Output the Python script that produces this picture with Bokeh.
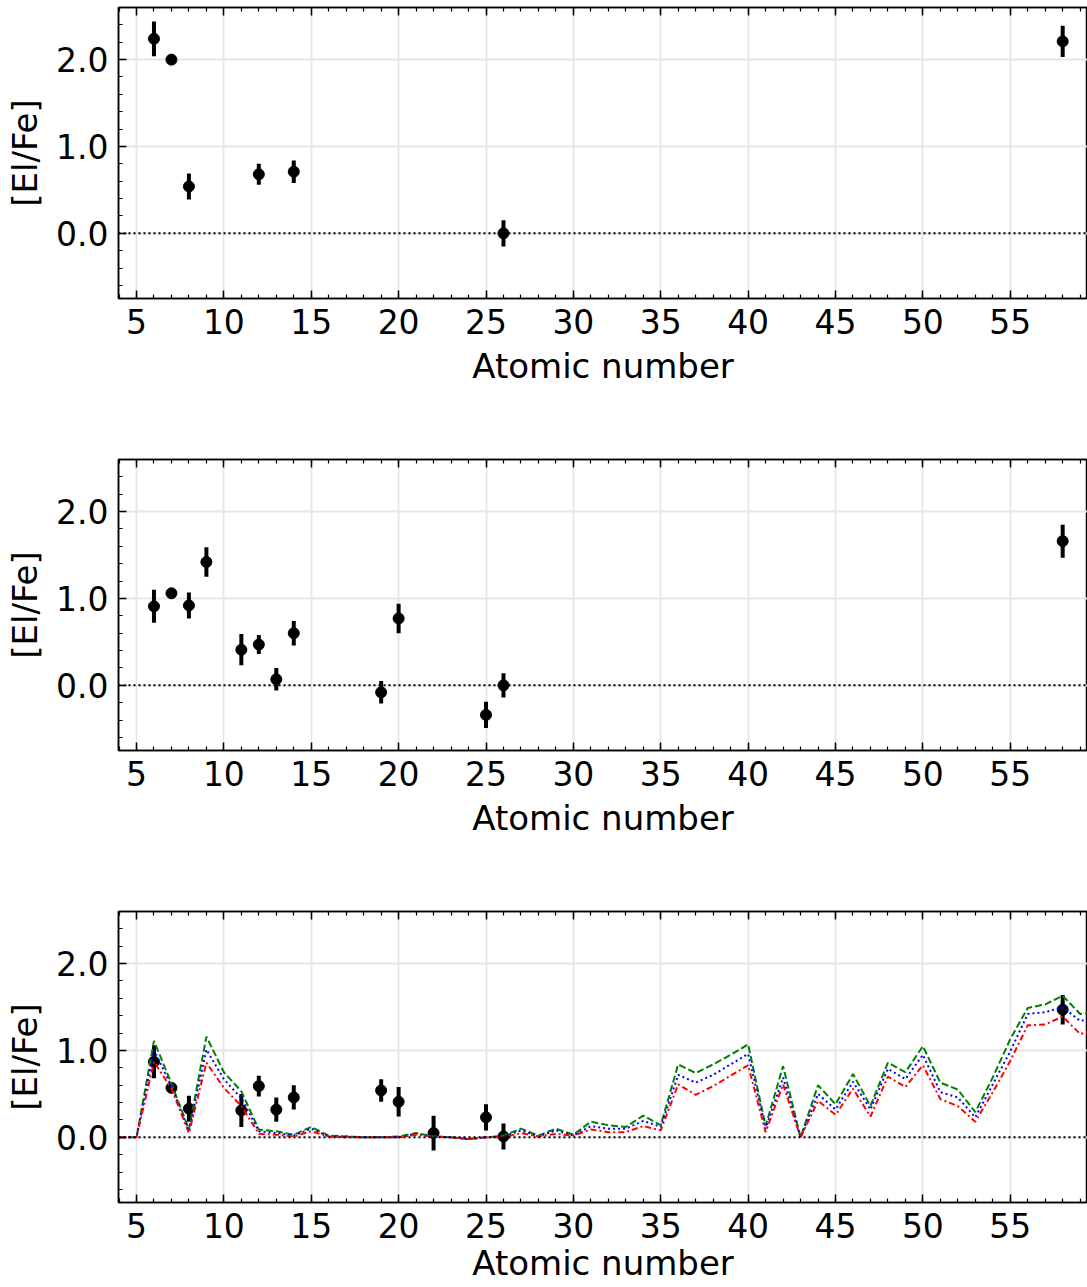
import numpy as np
from bokeh.plotting import figure
from bokeh.layouts import column
from bokeh.models import (Range1d, SingleIntervalTicker, PrintfTickFormatter,
                          LinearAxis, Span, CustomLabelingPolicy)
from bokeh.embed import file_html
from bokeh.resources import INLINE

FONT = "DejaVu Sans"

# ---- Panel 1 observations ----
z1 = [6, 7, 8, 12, 14, 26, 58]
y1 = [2.24, 2.00, 0.54, 0.68, 0.71, 0.00, 2.21]
e1 = [0.20, 0.02, 0.15, 0.12, 0.13, 0.15, 0.18]

# ---- Panel 2 observations ----
z2 = [6, 7, 8, 9, 11, 12, 13, 14, 19, 20, 25, 26, 58]
y2 = [0.91, 1.06, 0.92, 1.42, 0.41, 0.47, 0.07, 0.60, -0.08, 0.77, -0.34, 0.00, 1.66]
e2 = [0.19, 0.02, 0.15, 0.17, 0.18, 0.11, 0.13, 0.14, 0.13, 0.17, 0.15, 0.14, 0.19]

# ---- Panel 3 observations ----
z3 = [6, 7, 8, 11, 12, 13, 14, 19, 20, 22, 25, 26, 58]
y3 = [0.87, 0.57, 0.33, 0.31, 0.59, 0.32, 0.46, 0.54, 0.41, 0.05, 0.23, 0.01, 1.47]
e3 = [0.19, 0.03, 0.15, 0.19, 0.12, 0.14, 0.14, 0.13, 0.17, 0.20, 0.15, 0.15, 0.17]

# ---- Panel 3 model curves ----
zm = list(range(4, 61))
m_green = [0.0, 0.0, 1.11, 0.62, 0.09, 1.16, 0.75, 0.53, 0.09, 0.07, 0.03, 0.12, 0.02,
           0.01, 0.0, 0.0, 0.01, 0.05, 0.01, 0.0, -0.02, 0.0, 0.02, 0.10, 0.02, 0.10,
           0.03, 0.18, 0.14, 0.12, 0.25, 0.14, 0.84, 0.74, 0.84, 0.95, 1.07, 0.13,
           0.82, 0.0, 0.60, 0.38, 0.73, 0.36, 0.86, 0.75, 1.05, 0.63, 0.55, 0.29,
           0.69, 1.13, 1.49, 1.53, 1.63, 1.42, 1.45]
m_blue = [0.0, 0.0, 1.00, 0.59, 0.07, 1.01, 0.67, 0.45, 0.07, 0.05, 0.02, 0.10, 0.01,
          0.01, 0.0, 0.0, 0.0, 0.04, 0.01, 0.0, -0.02, 0.0, 0.01, 0.08, 0.01, 0.08,
          0.02, 0.13, 0.10, 0.10, 0.19, 0.12, 0.72, 0.63, 0.72, 0.84, 0.96, 0.10,
          0.69, 0.0, 0.50, 0.32, 0.64, 0.32, 0.79, 0.67, 0.95, 0.52, 0.46, 0.23,
          0.61, 0.99, 1.42, 1.44, 1.50, 1.34, 1.38]
m_red = [0.0, 0.0, 0.87, 0.56, 0.05, 0.86, 0.57, 0.36, 0.04, 0.03, 0.01, 0.07, 0.01,
         0.0, 0.0, 0.0, 0.0, 0.03, 0.01, 0.0, -0.02, 0.0, 0.0, 0.05, 0.01, 0.04,
         0.02, 0.09, 0.06, 0.06, 0.13, 0.08, 0.61, 0.49, 0.59, 0.71, 0.83, 0.06,
         0.61, 0.0, 0.42, 0.26, 0.56, 0.24, 0.70, 0.58, 0.83, 0.44, 0.36, 0.18,
         0.52, 0.88, 1.29, 1.30, 1.39, 1.19, 1.24]

X_RANGE = (3.97, 59.42)
Y_RANGE = (-0.75, 2.6)

NO_LABELS = CustomLabelingPolicy(code="""
    const n = indices.size;
    for (let i = 0; i < n; i++) {
        if (indices.unset) { indices.unset(i) } else { indices.set(i, false) }
    }
    return indices;
""")


def style_axis(ax, show_labels=True):
    ax.major_tick_in = 8
    ax.major_tick_out = 0
    ax.minor_tick_in = 4
    ax.minor_tick_out = 0
    ax.major_tick_line_width = 1.5
    ax.minor_tick_line_width = 1.2
    ax.major_tick_line_color = "black"
    ax.minor_tick_line_color = "black"
    ax.axis_line_color = "black"
    ax.axis_line_width = 1.5
    ax.major_label_text_font = FONT
    ax.major_label_text_color = "black"
    ax.axis_label_text_font = FONT
    ax.axis_label_text_font_style = "normal"
    ax.axis_label_text_color = "black"
    ax.axis_label_text_font_size = "34px"
    if show_labels:
        ax.major_label_text_font_size = "33px"
    else:
        ax.major_label_text_font_size = "1px"
        ax.major_label_standoff = 0
        ax.major_label_policy = NO_LABELS


def make_panel(z, y, e, height, border_bottom, label_standoff=9):
    p = figure(width=1087, height=height,
               x_range=Range1d(*X_RANGE), y_range=Range1d(*Y_RANGE),
               output_backend="svg", toolbar_location=None,
               min_border_left=118, min_border_right=0,
               min_border_top=7, min_border_bottom=border_bottom)
    xt = SingleIntervalTicker(interval=5, num_minor_ticks=5)
    yt = SingleIntervalTicker(interval=1, num_minor_ticks=5)
    p.xaxis[0].ticker = xt
    p.yaxis[0].ticker = yt
    p.xgrid[0].ticker = xt
    p.ygrid[0].ticker = yt
    p.yaxis[0].formatter = PrintfTickFormatter(format="%.1f")
    style_axis(p.xaxis[0])
    style_axis(p.yaxis[0])
    p.xaxis[0].major_label_standoff = 10
    p.yaxis[0].major_label_standoff = 10
    p.xaxis[0].axis_label = "Atomic number"
    p.yaxis[0].axis_label = "[El/Fe]"
    p.xaxis[0].axis_label_standoff = label_standoff
    p.yaxis[0].axis_label_standoff = 8

    top = LinearAxis(ticker=xt)
    style_axis(top, show_labels=False)
    p.add_layout(top, "above")

    p.grid.grid_line_color = "#e6e6e6"
    p.grid.grid_line_width = 1.8
    p.outline_line_color = "black"
    p.outline_line_width = 1.5
    p.background_fill_color = "white"
    p.border_fill_color = "white"

    p.add_layout(Span(location=0, dimension="width", line_color="black",
                      line_dash="2 3", line_width=2))

    za = np.array(z, dtype=float)
    ya = np.array(y, dtype=float)
    ea = np.array(e, dtype=float)
    p.segment(x0=za, y0=ya - ea, x1=za, y1=ya + ea,
              line_color="black", line_width=4)
    p.scatter(za, ya, size=11, marker="circle", fill_color="black",
              line_color="black")
    return p


p1 = make_panel(z1, y1, e1, 452, 154)
p2 = make_panel(z2, y2, e2, 452, 154)
p3 = make_panel(z3, y3, e3, 383, 85, label_standoff=2)

p3.line(zm, m_green, line_color="green", line_width=2, line_dash="7 3")
p3.line(zm, m_blue, line_color="blue", line_width=2, line_dash="2 3")
p3.line(zm, m_red, line_color="red", line_width=2, line_dash="6 3 2 3")

layout = column(p1, p2, p3, spacing=0)

open("out.html", "w").write(file_html(layout, INLINE))
